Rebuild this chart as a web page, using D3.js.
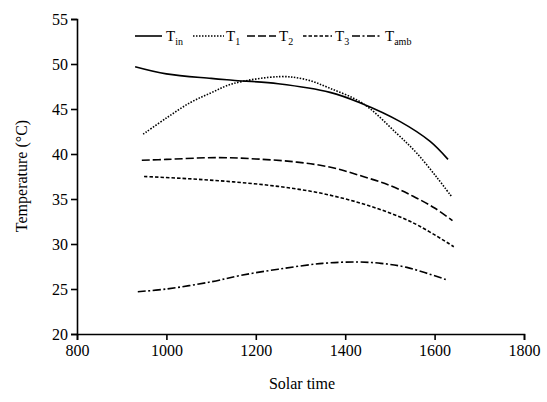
<!DOCTYPE html>
<html><head><meta charset="utf-8">
<script src="https://cdn.jsdelivr.net/npm/d3@7/dist/d3.min.js"></script>
<style>body{margin:0;background:#fff}svg{display:block}</style>
</head><body><div id="c"></div>
<script>
const xTicks=[800,1000,1200,1400,1600,1800];
const yTicks=[20,25,30,35,40,45,50,55];
const tinT=[930,1000,1100,1148,1250,1366,1433,1523,1590,1630];
const tinV=[49.7,48.9,48.4,48.2,47.8,46.85,45.7,43.6,41.4,39.4];
const t1T=[948,1000,1053,1100,1148,1254,1310,1366,1440,1515,1560,1605,1639];
const t1V=[42.2,44.0,45.7,46.8,47.8,48.6,48.3,47.3,45.6,42.3,40.1,37.4,35.2];
const t2T=[945,1000,1113,1200,1292,1370,1440,1500,1552,1600,1640];
const t2V=[39.3,39.4,39.6,39.45,39.1,38.5,37.5,36.5,35.3,34.0,32.6];
const t3T=[950,1050,1150,1250,1350,1450,1550,1643];
const t3V=[37.5,37.25,36.9,36.4,35.6,34.3,32.4,29.7];
const tambT=[936,1000,1100,1165,1250,1350,1426,1480,1538,1628];
const tambV=[24.7,25.0,25.8,26.5,27.2,27.85,28.0,27.85,27.4,26.0];
const seriesNames=["in","1","2","3","amb"];

const FONT='"Liberation Serif","Times New Roman",serif';
const W=547,H=402;
const svg=d3.select("#c").append("svg").attr("width",W).attr("height",H)
  .attr("font-family",FONT);
const x=d3.scaleLinear().domain([800,1800]).range([77,524]);
const y=d3.scaleLinear().domain([20,55]).range([334,19]);

const xa=svg.append("g").attr("transform","translate(0,334)")
  .call(d3.axisBottom(x).tickValues(xTicks).tickSize(6).tickPadding(5).tickFormat(d3.format("d")));
const ya=svg.append("g").attr("transform","translate(77,0)")
  .call(d3.axisLeft(y).tickValues(yTicks).tickSize(6).tickPadding(3).tickFormat(d3.format("d")));
[xa,ya].forEach(a=>{a.attr("font-family",FONT).attr("font-size",16);
  a.selectAll("path").attr("stroke","#000").attr("stroke-width",1.6);
  a.selectAll("line").attr("stroke","#000").attr("stroke-width",1.6);
  a.selectAll("text").attr("fill","#000");});

svg.append("text").attr("x",302).attr("y",389).attr("text-anchor","middle").attr("font-size",16).text("Solar time");
svg.append("text").attr("transform","translate(27,176) rotate(-90)").attr("text-anchor","middle").attr("font-size",16).text("Temperature (°C)");

const styles=[
 {t:tinT,v:tinV,dash:null},
 {t:t1T,v:t1V,dash:"1.5,1.5"},
 {t:t2T,v:t2V,dash:"8,3"},
 {t:t3T,v:t3V,dash:"3.5,2"},
 {t:tambT,v:tambV,dash:"8,2.5,2,2.5"}
];
const line=d3.line().x(d=>x(d[0])).y(d=>y(d[1])).curve(d3.curveCatmullRom.alpha(0.5));
styles.forEach(s=>{
  const pts=s.t.map((t,i)=>[t,s.v[i]]);
  svg.append("path").attr("d",line(pts)).attr("fill","none").attr("stroke","#000").attr("stroke-width",1.6)
    .attr("stroke-dasharray",s.dash);
});

// legend
const leg=[[135,162,166],[193,224,226],[247,276,279],[303,332,335],[352,382,385]];
leg.forEach((L,i)=>{
  svg.append("line").attr("x1",L[0]).attr("x2",L[1]).attr("y1",36).attr("y2",36).attr("stroke","#000")
    .attr("stroke-width",1.6).attr("stroke-dasharray",styles[i].dash);
  const t=svg.append("text").attr("x",L[2]).attr("y",41).attr("font-size",15);
  t.append("tspan").text("T");
  t.append("tspan").attr("dy",4).attr("font-size",10).text(seriesNames[i]);
});
</script></body></html>
